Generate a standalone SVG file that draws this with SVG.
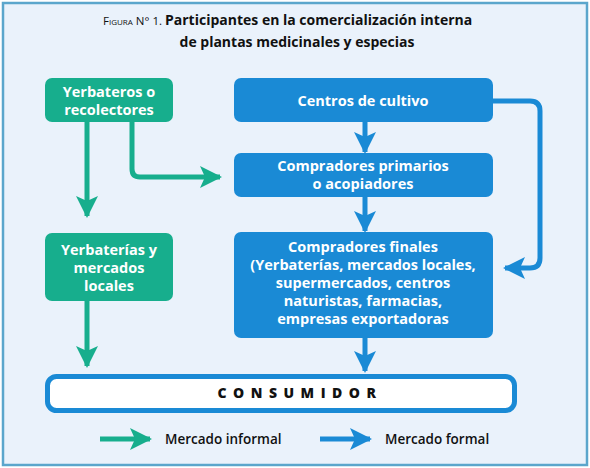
<svg xmlns="http://www.w3.org/2000/svg" width="590" height="468" viewBox="0 0 590 468">
<defs>
<style>
.t{font-family:"Open Sans","Noto Sans",sans-serif;font-weight:bold;fill:#fff;font-size:14.5px;text-anchor:middle}
.g{fill:#17ae8d}
.b{fill:#1a8ad5}
.gl{fill:none;stroke:#17ae8d;stroke-width:5}
.bl{fill:none;stroke:#1a8ad5;stroke-width:5}
.lg{font-family:"Open Sans","Noto Sans",sans-serif;font-weight:600;fill:#111;font-size:13.5px}
</style>
<marker id="ag" markerUnits="userSpaceOnUse" markerWidth="24" markerHeight="24" refX="20" refY="12" orient="auto" viewBox="0 0 24 24"><path d="M0,1 L22,12 L0,23 L5,12 Z" fill="#17ae8d"/></marker>
<marker id="ab" markerUnits="userSpaceOnUse" markerWidth="24" markerHeight="24" refX="20" refY="12" orient="auto" viewBox="0 0 24 24"><path d="M0,1 L22,12 L0,23 L5,12 Z" fill="#1a8ad5"/></marker>
</defs>
<rect x="3" y="3" width="584" height="462" fill="#eaf2fb" stroke="#5ba6cc" stroke-width="2.5"/>
<g id="title" font-family="'Open Sans','Noto Sans',sans-serif" fill="#111">
<text x="103" y="25" font-size="11.5"><tspan>F</tspan><tspan font-size="8">IGURA</tspan><tspan> N° 1.</tspan></text>
<text x="165" y="25" font-size="14" font-weight="bold">Participantes en la comercialización interna</text>
<text x="297" y="47" font-size="14" font-weight="bold" text-anchor="middle">de plantas medicinales y especias</text>
</g>
<g id="connectors">
<path class="gl" d="M87,122 V216" marker-end="url(#ag)"/>
<path class="gl" d="M132,122 V169 Q132,177 140,177 H220" marker-end="url(#ag)"/>
<path class="gl" d="M87,301 V366" marker-end="url(#ag)"/>
<path class="bl" d="M365,122 V152" marker-end="url(#ab)"/>
<path class="bl" d="M365,197 V231" marker-end="url(#ab)"/>
<path class="bl" d="M365,338 V371" marker-end="url(#ab)"/>
<path class="bl" d="M493,101 H530 Q540,101 540,111 V258 Q540,268 530,268 H505" marker-end="url(#ab)"/>
</g>
<g id="yerbateros"><rect class="g" x="45" y="78" width="128" height="44" rx="7"/><text class="t" x="109" y="97">Yerbateros o</text><text class="t" x="109" y="115">recolectores</text></g>
<g id="centros"><rect class="b" x="234" y="78" width="259" height="44" rx="7"/><text class="t" x="363" y="106">Centros de cultivo</text></g>
<g id="primarios"><rect class="b" x="234" y="153" width="259" height="44" rx="7"/><text class="t" x="363" y="171">Compradores primarios</text><text class="t" x="363" y="189">o acopiadores</text></g>
<g id="yerbaterias"><rect class="g" x="45" y="233" width="128" height="68" rx="7"/><text class="t" x="109" y="255">Yerbaterías y</text><text class="t" x="109" y="273">mercados</text><text class="t" x="109" y="291">locales</text></g>
<g id="finales"><rect class="b" x="234" y="232" width="259" height="106" rx="7"/>
<text class="t" x="363" y="252">Compradores finales</text>
<text class="t" x="363" y="270">(Yerbaterías, mercados locales,</text>
<text class="t" x="363" y="288">supermercados, centros</text>
<text class="t" x="363" y="306">naturistas, farmacias,</text>
<text class="t" x="363" y="324">empresas exportadoras</text></g>
<g id="consumidor"><rect x="47.5" y="376.5" width="467" height="34" rx="9" fill="#fff" stroke="#1a8ad5" stroke-width="5"/>
<text x="300" y="398" font-family="'Open Sans','Noto Sans',sans-serif" font-weight="800" font-size="14" letter-spacing="6.5" text-anchor="middle" fill="#111">CONSUMIDOR</text></g>
<g id="legend">
<path class="gl" d="M100,439 H150" marker-end="url(#ag)"/>
<text class="lg" x="165" y="444">Mercado informal</text>
<path class="bl" d="M320,439 H370" marker-end="url(#ab)"/>
<text class="lg" x="385" y="444">Mercado formal</text>
</g>
</svg>
